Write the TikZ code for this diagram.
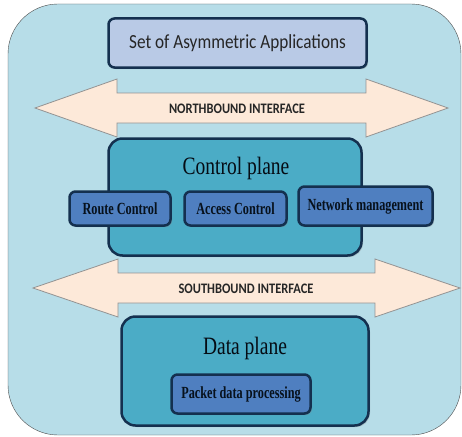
\documentclass[tikz,border=0pt]{standalone}
\usepackage{fontspec}
\setmainfont{Liberation Serif}
\newfontfamily\calib[FakeStretch=0.86]{Carlito}
\newfontfamily\tallserif[FakeStretch=0.78]{Liberation Serif}
\newfontfamily\narrowserif[FakeStretch=0.72]{Liberation Serif}
\usetikzlibrary{shadows}

\definecolor{outerblue}{HTML}{B7DDE8}
\definecolor{appfill}{HTML}{B9CAE6}
\definecolor{navy}{HTML}{14304F}
\definecolor{planefill}{HTML}{4BACC6}
\definecolor{modfill}{HTML}{4F7FC0}
\definecolor{peach}{HTML}{FDE9D9}

\tikzset{
  box/.style={draw=navy, line width=2.5pt, rounded corners=6pt, inner sep=0pt,
    drop shadow={shadow xshift=1.5pt, shadow yshift=-1.5pt, opacity=0.35}},
  appbox/.style={box, fill=appfill, text=black!85, font=\calib\fontsize{20}{24}\selectfont},
  planebox/.style={box, fill=planefill, rounded corners=14pt},
  modbox/.style={box, fill=modfill, text=navy!35!black,
    font=\narrowserif\bfseries\fontsize{17}{20}\selectfont},
  planetitle/.style={text=navy!25!black, font=\tallserif\fontsize{25}{28}\selectfont},
  iface/.style={draw=gray!85, fill=peach, line width=0.8pt},
}

\begin{document}
\begin{tikzpicture}[x=1pt,y=-1pt]
  \useasboundingbox (0,0) rectangle (462,436);
  \draw[fill=outerblue, draw=gray!60!black, rounded corners=50pt] (8,4) rectangle (461,435);

  % interfaces
  \foreach \y/\l/\r/\a/\b/\tx/\nm in {108/35/448/117/366/237/NORTHBOUND,288/33/460/118/375/246/SOUTHBOUND}{
    \draw[iface] (\l,\y) -- (\a,\y-29) -- (\a,\y-15) -- (\b,\y-15) -- (\b,\y-29) -- (\r,\y)
      -- (\b,\y+29) -- (\b,\y+15) -- (\a,\y+15) -- (\a,\y+29) -- cycle;
    \node[text=black!85, font=\calib\bfseries\fontsize{14.5}{18}\selectfont] (\nm) at (\tx,\y+1) {\nm{} INTERFACE};
  }

  \node[appbox, minimum width=258pt, minimum height=49pt] (apps) at (237.5,43) {Set of Asymmetric Applications};

  % control plane
  \node[planebox, minimum width=253pt, minimum height=117pt] (ctrl) at (235,197) {};
  \node[planetitle] (ctrltitle) at (236,168) {Control plane};
  \node[modbox, minimum width=101pt, minimum height=34pt] (route) at (120,208.5) {Route Control};
  \node[modbox, minimum width=102pt, minimum height=34pt] (access) at (235.5,208.5) {Access Control};
  \node[modbox, minimum width=134pt, minimum height=39pt] (netman) at (365.5,206) {Network management};

  % data plane
  \node[planebox, minimum width=247pt, minimum height=109pt] (data) at (245,371) {};
  \node[planetitle] (datatitle) at (245,348) {Data plane};
  \node[modbox, minimum width=139pt, minimum height=39pt] (packet) at (241,394) {Packet data processing};
\end{tikzpicture}
\end{document}
